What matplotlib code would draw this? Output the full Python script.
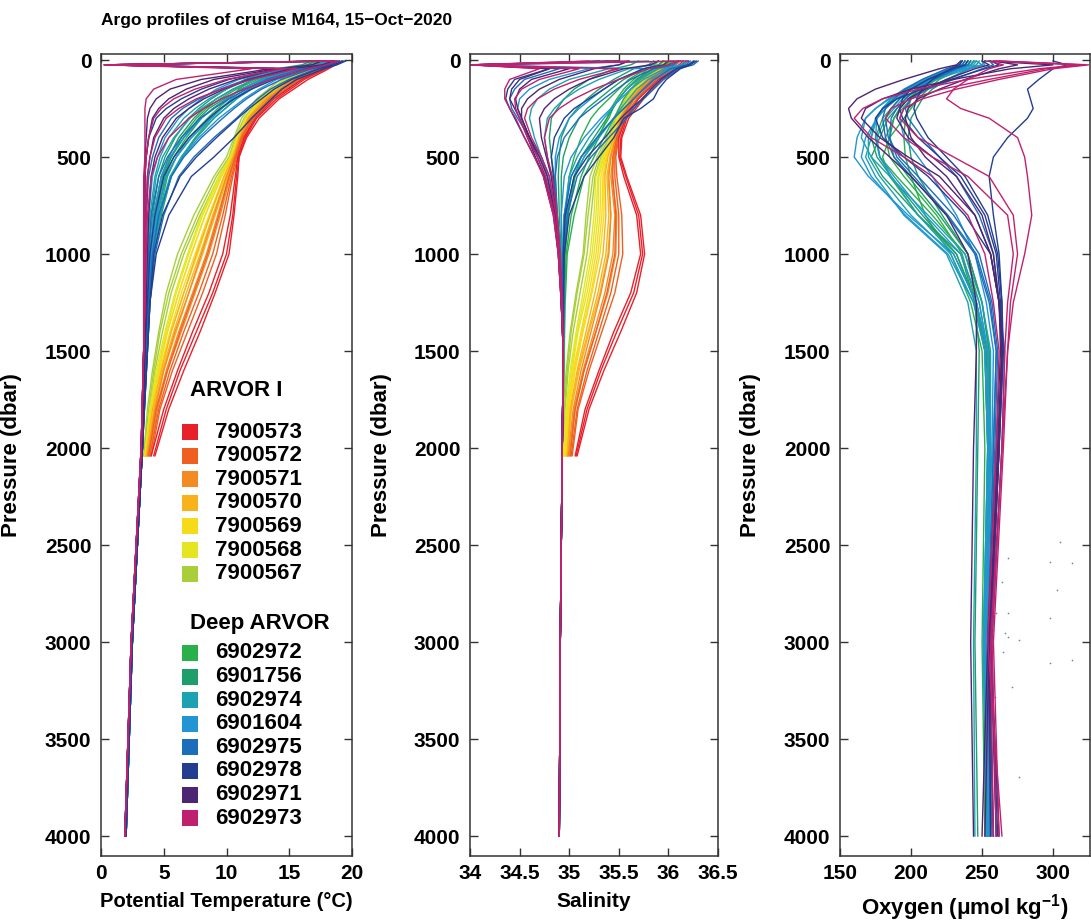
import matplotlib
matplotlib.use("Agg")
import matplotlib.pyplot as plt
from matplotlib.patches import Rectangle

plt.rcParams['font.family'] = ['Liberation Sans', 'DejaVu Sans']
plt.rcParams['font.weight'] = 'bold'
plt.rcParams['mathtext.fontset'] = 'custom'
plt.rcParams['mathtext.rm'] = 'Liberation Sans:bold'
plt.rcParams['mathtext.it'] = 'Liberation Sans:bold'
plt.rcParams['mathtext.bf'] = 'Liberation Sans:bold'

# ---------------- data ----------------
ARVOR_IDS = ['7900573', '7900572', '7900571', '7900570', '7900569', '7900568', '7900567']
ARVOR_COLORS = ['#E8202A', '#EF5F22', '#F38B22', '#F8B31C', '#F7DA1A', '#E5E621', '#A8CF3A']
DEEP_IDS = ['6902972', '6901756', '6902974', '6901604', '6902975', '6902978', '6902971', '6902973']
DEEP_COLORS = ['#2AB04A', '#1E9E6A', '#1CA2B2', '#2295D5', '#1C6EBA', '#233E91', '#4E2572', '#C0216F']

# pressure levels (dbar)
ARVOR_P = [5, 50, 100, 200, 300, 400, 500, 600, 800, 1000, 1200, 1400, 1600, 1800, 2040]
DEEP_P = [5, 25, 45, 100, 150, 200, 250, 300, 400, 500, 600, 800, 1000, 1250, 1500, 2000, 3000, 4000]

# ARVOR I potential temperature (deg C)
T_7900573 = [[19.2, 18.0, 16.5, 14.2, 12.6, 11.6, 11.0, 10.9, 10.6, 10.2, 9.1, 7.9, 6.6, 5.4, 4.3],
             [18.8, 17.6, 16.0, 13.8, 12.3, 11.4, 10.9, 10.7, 10.3, 9.7, 8.6, 7.3, 6.1, 5.0, 4.0],
             [19.0, 17.8, 16.2, 14.0, 12.4, 11.5, 11.0, 10.8, 10.5, 10.0, 8.9, 7.6, 6.3, 5.2, 4.2]]
T_7900572 = [[18.6, 17.4, 15.8, 13.6, 12.1, 11.3, 10.8, 10.4, 9.7, 8.9, 7.8, 6.6, 5.5, 4.6, 3.9],
             [18.3, 17.0, 15.5, 13.4, 12.0, 11.2, 10.7, 10.2, 9.4, 8.5, 7.4, 6.3, 5.3, 4.4, 3.8],
             [18.8, 17.5, 16.0, 13.7, 12.2, 11.4, 10.9, 10.5, 9.9, 9.2, 8.1, 6.9, 5.7, 4.7, 4.0]]
T_7900571 = [[18.4, 17.2, 15.6, 13.5, 12.0, 11.2, 10.7, 10.2, 9.3, 8.4, 7.3, 6.2, 5.2, 4.4, 3.8],
             [18.0, 16.9, 15.3, 13.2, 11.8, 11.1, 10.6, 10.0, 9.0, 8.0, 7.0, 5.9, 5.0, 4.3, 3.7],
             [18.5, 17.3, 15.7, 13.6, 12.1, 11.2, 10.7, 10.3, 9.5, 8.6, 7.5, 6.4, 5.3, 4.5, 3.9]]
T_7900570 = [[18.2, 17.0, 15.4, 13.3, 11.9, 11.1, 10.6, 10.0, 8.9, 7.9, 6.8, 5.8, 4.9, 4.2, 3.7],
             [17.8, 16.6, 15.1, 13.0, 11.7, 11.0, 10.5, 9.8, 8.7, 7.6, 6.6, 5.6, 4.8, 4.1, 3.6],
             [18.1, 16.9, 15.3, 13.2, 11.8, 11.0, 10.6, 10.1, 9.1, 8.1, 7.0, 6.0, 5.0, 4.3, 3.7]]
T_7900569 = [[18.0, 16.8, 15.2, 13.1, 11.8, 11.0, 10.5, 9.8, 8.6, 7.5, 6.4, 5.5, 4.7, 4.0, 3.6],
             [17.6, 16.5, 14.9, 12.9, 11.6, 10.9, 10.4, 9.6, 8.3, 7.2, 6.2, 5.3, 4.6, 4.0, 3.5],
             [18.1, 16.9, 15.3, 13.2, 11.8, 11.0, 10.6, 9.9, 8.7, 7.7, 6.6, 5.6, 4.8, 4.1, 3.6]]
T_7900568 = [[17.8, 16.6, 15.0, 12.9, 11.6, 10.9, 10.4, 9.5, 8.1, 7.0, 6.0, 5.2, 4.5, 3.9, 3.5],
             [17.5, 16.3, 14.7, 12.7, 11.5, 10.8, 10.3, 9.4, 8.0, 6.9, 5.9, 5.1, 4.4, 3.9, 3.5],
             [17.9, 16.7, 15.1, 13.0, 11.7, 10.9, 10.4, 9.6, 8.3, 7.2, 6.2, 5.3, 4.6, 4.0, 3.6]]
T_7900567 = [[17.4, 16.2, 14.6, 12.6, 11.4, 10.7, 10.2, 9.2, 7.7, 6.4, 5.4, 4.7, 4.2, 3.8, 3.4],
             [17.0, 15.8, 14.3, 12.4, 11.2, 10.6, 10.0, 9.0, 7.4, 6.1, 5.2, 4.6, 4.1, 3.7, 3.4],
             [17.6, 16.4, 14.8, 12.8, 11.5, 10.8, 10.3, 9.4, 7.9, 6.6, 5.6, 4.9, 4.3, 3.9, 3.5]]

# ARVOR I salinity
S_7900573 = [[36.20, 36.10, 35.95, 35.75, 35.60, 35.53, 35.52, 35.58, 35.72, 35.76, 35.68, 35.52, 35.35, 35.20, 35.08],
             [36.15, 36.05, 35.90, 35.70, 35.57, 35.50, 35.50, 35.55, 35.68, 35.72, 35.62, 35.45, 35.30, 35.16, 35.06],
             [36.18, 36.08, 35.93, 35.73, 35.58, 35.52, 35.51, 35.57, 35.70, 35.74, 35.65, 35.48, 35.32, 35.18, 35.07]]
S_7900572 = [[36.10, 36.00, 35.86, 35.68, 35.55, 35.49, 35.46, 35.46, 35.50, 35.50, 35.42, 35.30, 35.18, 35.08, 35.02],
             [36.05, 35.96, 35.83, 35.65, 35.53, 35.48, 35.44, 35.44, 35.47, 35.46, 35.38, 35.27, 35.15, 35.06, 35.01],
             [36.12, 36.02, 35.88, 35.69, 35.56, 35.50, 35.47, 35.48, 35.53, 35.54, 35.46, 35.33, 35.20, 35.09, 35.03]]
S_7900571 = [[36.08, 35.98, 35.84, 35.66, 35.54, 35.48, 35.44, 35.42, 35.46, 35.44, 35.36, 35.25, 35.14, 35.05, 35.00],
             [36.02, 35.94, 35.80, 35.63, 35.52, 35.47, 35.42, 35.40, 35.42, 35.40, 35.32, 35.22, 35.12, 35.04, 34.99],
             [36.06, 35.97, 35.83, 35.65, 35.53, 35.48, 35.45, 35.43, 35.48, 35.47, 35.39, 35.27, 35.15, 35.06, 35.00]]
S_7900570 = [[36.04, 35.95, 35.81, 35.64, 35.52, 35.46, 35.41, 35.38, 35.40, 35.37, 35.29, 35.19, 35.09, 35.02, 34.98],
             [36.00, 35.92, 35.78, 35.62, 35.51, 35.45, 35.39, 35.36, 35.37, 35.34, 35.26, 35.17, 35.08, 35.01, 34.98],
             [36.03, 35.94, 35.80, 35.63, 35.52, 35.46, 35.42, 35.39, 35.42, 35.39, 35.31, 35.20, 35.10, 35.02, 34.98]]
S_7900569 = [[36.02, 35.93, 35.79, 35.62, 35.51, 35.44, 35.38, 35.35, 35.35, 35.31, 35.23, 35.14, 35.06, 35.00, 34.97],
             [35.98, 35.90, 35.76, 35.60, 35.50, 35.43, 35.36, 35.32, 35.31, 35.27, 35.20, 35.12, 35.04, 34.99, 34.96],
             [36.00, 35.91, 35.77, 35.61, 35.50, 35.44, 35.37, 35.34, 35.33, 35.29, 35.22, 35.13, 35.05, 34.99, 34.96]]
S_7900568 = [[35.98, 35.89, 35.75, 35.59, 35.49, 35.42, 35.34, 35.29, 35.27, 35.23, 35.16, 35.08, 35.02, 34.97, 34.95],
             [35.95, 35.87, 35.73, 35.58, 35.48, 35.41, 35.33, 35.27, 35.25, 35.21, 35.14, 35.07, 35.01, 34.97, 34.94],
             [35.97, 35.88, 35.74, 35.59, 35.49, 35.42, 35.35, 35.30, 35.29, 35.25, 35.18, 35.09, 35.03, 34.98, 34.95]]
S_7900567 = [[35.94, 35.86, 35.72, 35.57, 35.47, 35.40, 35.30, 35.24, 35.19, 35.15, 35.08, 35.02, 34.98, 34.95, 34.93],
             [35.90, 35.83, 35.70, 35.55, 35.46, 35.38, 35.28, 35.21, 35.17, 35.14, 35.07, 35.01, 34.97, 34.94, 34.93],
             [35.96, 35.88, 35.74, 35.58, 35.48, 35.41, 35.32, 35.26, 35.22, 35.18, 35.11, 35.04, 34.99, 34.96, 34.94]]

# Deep ARVOR potential temperature (deg C)
T_6902972 = [[17.5, 16.8, 15.0, 12.5, 10.8, 9.5, 8.4, 7.6, 6.4, 5.6, 5.0, 4.4, 4.0, 3.8, 3.6, 3.3, 2.5, 2.0],
             [17.0, 16.5, 14.5, 12.0, 11.0, 10.2, 9.3, 8.5, 7.0, 6.0, 5.3, 4.6, 4.1, 3.8, 3.6, 3.3, 2.5, 2.0],
             [18.0, 17.2, 15.8, 13.2, 11.8, 10.6, 9.6, 8.8, 7.5, 6.4, 5.6, 4.8, 4.2, 3.9, 3.7, 3.3, 2.5, 2.0],
             [17.8, 17.0, 15.2, 12.8, 11.2, 10.0, 8.9, 8.0, 6.8, 5.8, 5.1, 4.5, 4.0, 3.8, 3.6, 3.3, 2.5, 2.0]]
T_6901756 = [[17.2, 16.4, 14.8, 12.2, 10.5, 9.2, 8.2, 7.4, 6.2, 5.4, 4.8, 4.2, 3.9, 3.7, 3.5, 3.3, 2.5, 1.9],
             [16.8, 16.0, 14.0, 11.5, 10.0, 8.8, 7.8, 7.0, 5.9, 5.1, 4.6, 4.1, 3.8, 3.7, 3.5, 3.3, 2.5, 1.9],
             [18.3, 17.6, 16.0, 13.4, 11.9, 10.8, 9.9, 9.0, 7.6, 6.5, 5.6, 4.7, 4.1, 3.8, 3.6, 3.3, 2.5, 2.0],
             [17.5, 16.8, 15.2, 12.8, 11.2, 9.8, 8.6, 7.8, 6.6, 5.6, 4.9, 4.3, 3.9, 3.7, 3.5, 3.3, 2.5, 1.9]]
T_6902974 = [[18.2, 17.5, 15.5, 13.0, 11.5, 10.4, 9.6, 8.8, 7.2, 6.0, 5.2, 4.5, 4.0, 3.8, 3.6, 3.3, 2.5, 2.0],
             [17.8, 0.4, 14.8, 11.8, 10.0, 8.6, 7.5, 6.6, 5.4, 4.7, 4.3, 3.9, 3.7, 3.6, 3.5, 3.3, 2.4, 1.9],
             [18.5, 17.8, 16.2, 13.5, 12.0, 10.8, 9.9, 9.0, 7.6, 6.4, 5.5, 4.6, 4.1, 3.8, 3.6, 3.3, 2.5, 2.0],
             [18.0, 17.2, 15.0, 12.2, 10.6, 9.2, 8.0, 7.1, 5.8, 4.9, 4.4, 4.0, 3.8, 3.7, 3.5, 3.3, 2.5, 1.9]]
T_6901604 = [[18.8, 0.5, 15.8, 12.8, 11.2, 10.0, 9.0, 8.0, 6.6, 5.5, 4.8, 4.2, 3.9, 3.7, 3.5, 3.3, 2.5, 1.9],
             [18.0, 17.2, 14.6, 11.0, 9.2, 8.0, 7.0, 6.2, 5.1, 4.5, 4.1, 3.8, 3.6, 3.6, 3.5, 3.2, 2.4, 1.9],
             [19.0, 18.2, 16.8, 14.0, 12.6, 11.4, 10.4, 9.4, 7.8, 6.5, 5.6, 4.7, 4.1, 3.8, 3.6, 3.3, 2.5, 2.0],
             [18.6, 17.9, 16.2, 13.4, 11.8, 10.6, 9.6, 8.7, 7.2, 6.0, 5.2, 4.4, 4.0, 3.8, 3.6, 3.3, 2.5, 2.0]]
T_6902975 = [[19.2, 18.5, 17.2, 15.0, 13.5, 12.5, 11.6, 10.8, 9.0, 7.4, 6.2, 5.0, 4.3, 3.9, 3.7, 3.3, 2.5, 2.0],
             [18.4, 0.3, 15.0, 11.6, 9.5, 7.8, 6.5, 5.6, 4.6, 4.1, 3.8, 3.6, 3.5, 3.5, 3.4, 3.2, 2.4, 1.9],
             [18.8, 18.0, 16.0, 13.2, 11.6, 10.2, 9.0, 7.9, 6.4, 5.3, 4.6, 4.0, 3.8, 3.7, 3.5, 3.3, 2.5, 1.9],
             [19.0, 18.3, 16.8, 14.4, 12.8, 11.6, 10.6, 9.7, 8.0, 6.6, 5.6, 4.6, 4.1, 3.8, 3.6, 3.3, 2.5, 2.0]]
T_6902978 = [[19.5, 18.8, 17.8, 15.6, 14.4, 13.6, 12.8, 12.0, 10.6, 9.0, 7.2, 5.4, 4.4, 3.9, 3.7, 3.3, 2.5, 2.0],
             [18.6, 0.4, 14.2, 10.2, 8.0, 6.4, 5.2, 4.4, 3.8, 3.6, 3.5, 3.4, 3.4, 3.4, 3.4, 3.2, 2.4, 1.9],
             [19.0, 18.2, 16.4, 13.8, 12.0, 10.6, 9.5, 8.6, 7.0, 5.8, 5.0, 4.3, 3.9, 3.7, 3.5, 3.3, 2.5, 1.9],
             [19.3, 18.6, 17.4, 15.2, 13.8, 12.8, 11.8, 10.9, 9.2, 7.6, 6.3, 4.9, 4.2, 3.9, 3.7, 3.3, 2.5, 2.0]]
T_6902971 = [[18.0, 0.3, 13.5, 8.0, 5.5, 4.4, 3.9, 3.7, 3.6, 3.5, 3.5, 3.5, 3.5, 3.5, 3.4, 3.2, 2.4, 1.9],
             [18.5, 17.6, 15.2, 11.8, 9.8, 8.2, 7.0, 6.0, 4.9, 4.3, 4.0, 3.8, 3.7, 3.6, 3.5, 3.3, 2.4, 1.9],
             [17.6, 16.8, 14.2, 10.8, 8.6, 7.0, 5.8, 5.0, 4.2, 3.9, 3.7, 3.6, 3.5, 3.5, 3.4, 3.2, 2.4, 1.9],
             [18.2, 0.4, 14.0, 9.0, 6.8, 5.4, 4.6, 4.1, 3.8, 3.6, 3.5, 3.5, 3.5, 3.5, 3.4, 3.2, 2.4, 1.9]]
T_6902973 = [[18.7, 0.2, 12.0, 6.0, 4.2, 3.6, 3.5, 3.5, 3.5, 3.5, 3.4, 3.4, 3.4, 3.4, 3.4, 3.2, 2.4, 1.9],
             [18.2, 0.5, 15.6, 12.0, 9.6, 7.6, 6.2, 5.2, 4.3, 3.9, 3.7, 3.6, 3.5, 3.5, 3.4, 3.2, 2.4, 1.9],
             [19.0, 18.0, 16.5, 13.6, 11.4, 9.6, 8.2, 7.0, 5.4, 4.5, 4.0, 3.7, 3.6, 3.5, 3.4, 3.2, 2.4, 1.9],
             [18.4, 0.3, 14.5, 10.0, 7.5, 5.8, 4.8, 4.2, 3.8, 3.6, 3.5, 3.5, 3.5, 3.5, 3.4, 3.2, 2.4, 1.9]]

# Deep ARVOR salinity
S_6902972 = [[36.00, 35.95, 35.80, 35.65, 35.55, 35.48, 35.42, 35.38, 35.30, 35.20, 35.12, 35.02, 34.97, 34.95, 34.95, 34.93, 34.91, 34.90],
             [36.10, 36.05, 35.90, 35.72, 35.62, 35.55, 35.50, 35.45, 35.35, 35.25, 35.15, 35.05, 34.98, 34.96, 34.95, 34.93, 34.91, 34.90],
             [35.95, 35.90, 35.78, 35.60, 35.50, 35.40, 35.30, 35.22, 35.12, 35.05, 35.00, 34.96, 34.95, 34.95, 34.94, 34.93, 34.91, 34.90],
             [36.02, 35.97, 35.84, 35.68, 35.58, 35.50, 35.44, 35.40, 35.28, 35.15, 35.06, 34.99, 34.96, 34.95, 34.95, 34.93, 34.91, 34.90]]
S_6901756 = [[35.85, 35.80, 35.65, 35.45, 35.30, 35.18, 35.08, 35.00, 34.92, 34.90, 34.89, 34.90, 34.92, 34.94, 34.94, 34.93, 34.91, 34.90],
             [35.70, 35.62, 35.45, 35.20, 35.05, 34.95, 34.88, 34.82, 34.80, 34.82, 34.85, 34.88, 34.91, 34.93, 34.94, 34.93, 34.91, 34.90],
             [36.05, 36.00, 35.85, 35.68, 35.58, 35.50, 35.44, 35.38, 35.25, 35.12, 35.05, 34.98, 34.95, 34.95, 34.94, 34.93, 34.91, 34.90],
             [35.95, 35.90, 35.75, 35.55, 35.42, 35.30, 35.18, 35.10, 35.00, 34.94, 34.92, 34.92, 34.93, 34.94, 34.94, 34.93, 34.91, 34.90]]
S_6902974 = [[36.10, 36.05, 35.88, 35.70, 35.58, 35.50, 35.43, 35.35, 35.20, 35.08, 35.00, 34.95, 34.94, 34.94, 34.94, 34.93, 34.91, 34.90],
             [35.80, 34.02, 35.40, 35.00, 34.80, 34.68, 34.62, 34.60, 34.65, 34.72, 34.78, 34.85, 34.90, 34.93, 34.94, 34.93, 34.91, 34.90],
             [36.20, 36.15, 36.00, 35.80, 35.68, 35.60, 35.52, 35.45, 35.30, 35.15, 35.05, 34.97, 34.95, 34.95, 34.94, 34.93, 34.91, 34.90],
             [35.90, 35.85, 35.60, 35.30, 35.10, 34.95, 34.85, 34.78, 34.75, 34.78, 34.82, 34.87, 34.91, 34.93, 34.94, 34.93, 34.91, 34.90]]
S_6901604 = [[36.15, 34.03, 35.75, 35.50, 35.35, 35.22, 35.10, 35.00, 34.90, 34.86, 34.86, 34.88, 34.91, 34.93, 34.94, 34.93, 34.91, 34.90],
             [35.60, 35.50, 35.20, 34.80, 34.60, 34.50, 34.48, 34.52, 34.60, 34.70, 34.78, 34.85, 34.90, 34.93, 34.94, 34.93, 34.91, 34.90],
             [36.25, 36.20, 36.05, 35.85, 35.75, 35.65, 35.55, 35.45, 35.28, 35.12, 35.02, 34.95, 34.94, 34.94, 34.94, 34.93, 34.91, 34.90],
             [36.18, 36.12, 35.96, 35.75, 35.62, 35.52, 35.42, 35.32, 35.15, 35.02, 34.95, 34.92, 34.93, 34.94, 34.94, 34.93, 34.91, 34.90]]
S_6902975 = [[36.30, 36.25, 36.10, 35.95, 35.85, 35.75, 35.65, 35.58, 35.40, 35.22, 35.08, 34.98, 34.95, 34.95, 34.94, 34.93, 34.91, 34.90],
             [35.40, 34.02, 34.90, 34.55, 34.45, 34.40, 34.42, 34.48, 34.60, 34.72, 34.80, 34.86, 34.90, 34.92, 34.94, 34.93, 34.91, 34.90],
             [36.10, 36.05, 35.85, 35.62, 35.48, 35.35, 35.22, 35.10, 34.95, 34.88, 34.86, 34.88, 34.91, 34.93, 34.94, 34.93, 34.91, 34.90],
             [36.22, 36.18, 36.02, 35.86, 35.75, 35.65, 35.55, 35.45, 35.28, 35.12, 35.02, 34.95, 34.94, 34.94, 34.94, 34.93, 34.91, 34.90]]
S_6902978 = [[36.28, 36.22, 36.12, 35.98, 35.90, 35.85, 35.72, 35.55, 35.45, 35.30, 35.15, 35.00, 34.95, 34.94, 34.94, 34.93, 34.91, 34.90],
             [35.50, 34.02, 34.80, 34.45, 34.38, 34.36, 34.40, 34.45, 34.55, 34.65, 34.75, 34.85, 34.90, 34.92, 34.94, 34.93, 34.91, 34.90],
             [36.00, 35.95, 35.75, 35.50, 35.35, 35.20, 35.05, 34.95, 34.85, 34.82, 34.84, 34.87, 34.90, 34.93, 34.94, 34.93, 34.91, 34.90],
             [36.26, 36.20, 36.08, 35.92, 35.82, 35.74, 35.62, 35.52, 35.36, 35.18, 35.05, 34.96, 34.94, 34.94, 34.94, 34.93, 34.91, 34.90]]
S_6902971 = [[35.30, 34.01, 34.80, 34.50, 34.42, 34.40, 34.45, 34.50, 34.58, 34.66, 34.74, 34.84, 34.89, 34.92, 34.94, 34.93, 34.91, 34.90],
             [35.90, 35.82, 35.55, 35.20, 35.00, 34.85, 34.75, 34.70, 34.72, 34.77, 34.82, 34.87, 34.90, 34.93, 34.94, 34.93, 34.91, 34.90],
             [35.60, 35.50, 35.25, 34.90, 34.70, 34.58, 34.52, 34.52, 34.60, 34.70, 34.78, 34.86, 34.90, 34.92, 34.94, 34.93, 34.91, 34.90],
             [35.50, 34.02, 35.00, 34.62, 34.50, 34.46, 34.48, 34.52, 34.60, 34.68, 34.76, 34.85, 34.89, 34.92, 34.94, 34.93, 34.91, 34.90]]
S_6902973 = [[35.20, 34.00, 34.70, 34.40, 34.35, 34.35, 34.40, 34.46, 34.55, 34.65, 34.74, 34.84, 34.89, 34.92, 34.94, 34.93, 34.91, 34.90],
             [36.20, 34.02, 35.50, 35.10, 34.85, 34.68, 34.58, 34.55, 34.62, 34.72, 34.80, 34.87, 34.90, 34.93, 34.94, 34.93, 34.91, 34.90],
             [36.10, 36.00, 35.80, 35.50, 35.25, 35.05, 34.90, 34.80, 34.75, 34.78, 34.83, 34.88, 34.91, 34.93, 34.94, 34.93, 34.91, 34.90],
             [35.60, 34.01, 35.10, 34.70, 34.52, 34.45, 34.46, 34.50, 34.58, 34.68, 34.76, 34.85, 34.89, 34.92, 34.94, 34.93, 34.91, 34.90]]

# Deep ARVOR oxygen (umol/kg)
O_6902972 = [[240, 238, 230, 215, 205, 200, 198, 196, 195, 196, 200, 210, 228, 242, 250, 252, 250, 252],
             [245, 242, 235, 220, 212, 205, 200, 195, 185, 180, 185, 205, 232, 245, 252, 254, 252, 253],
             [236, 234, 226, 212, 200, 192, 186, 180, 175, 178, 190, 215, 238, 248, 254, 255, 252, 254],
             [242, 240, 232, 218, 208, 200, 194, 188, 182, 185, 195, 218, 236, 246, 252, 254, 251, 253]]
O_6901756 = [[242, 240, 232, 216, 206, 198, 192, 188, 185, 188, 198, 220, 240, 250, 255, 256, 253, 255],
             [238, 236, 228, 214, 204, 196, 190, 184, 178, 172, 180, 205, 235, 245, 248, 247, 245, 247],
             [248, 246, 240, 226, 215, 208, 204, 200, 198, 200, 205, 222, 240, 250, 255, 256, 253, 256],
             [240, 238, 230, 212, 198, 188, 180, 175, 172, 176, 186, 208, 232, 246, 253, 255, 252, 254]]
O_6902974 = [[244, 242, 232, 214, 200, 190, 182, 176, 170, 170, 178, 200, 228, 244, 252, 254, 251, 253],
             [250, 252, 240, 218, 200, 185, 175, 168, 165, 172, 185, 212, 238, 250, 256, 256, 252, 254],
             [240, 238, 228, 210, 196, 186, 180, 176, 172, 168, 175, 195, 225, 240, 246, 246, 244, 245],
             [246, 244, 236, 218, 204, 194, 188, 182, 176, 178, 186, 205, 230, 246, 254, 255, 252, 255]]
O_6901604 = [[246, 250, 238, 212, 196, 184, 175, 168, 162, 160, 170, 198, 230, 246, 254, 255, 252, 254],
             [252, 250, 242, 225, 210, 200, 195, 192, 195, 205, 215, 232, 245, 253, 258, 257, 253, 255],
             [238, 236, 226, 208, 195, 186, 180, 176, 175, 178, 188, 210, 235, 248, 254, 255, 252, 254],
             [244, 242, 234, 215, 200, 190, 182, 176, 168, 165, 172, 196, 226, 244, 252, 254, 251, 253]]
O_6902975 = [[236, 234, 225, 208, 196, 188, 182, 180, 182, 188, 200, 225, 245, 255, 260, 258, 254, 258],
             [255, 258, 250, 230, 212, 200, 196, 198, 208, 220, 232, 248, 258, 262, 266, 264, 257, 260],
             [242, 240, 232, 216, 204, 196, 190, 186, 185, 190, 202, 226, 246, 256, 260, 258, 254, 256],
             [238, 236, 228, 212, 200, 192, 186, 182, 184, 192, 205, 230, 248, 257, 261, 259, 254, 257]]
O_6902978 = [[300, 310, 300, 290, 282, 284, 286, 282, 268, 258, 255, 258, 262, 264, 264, 262, 256, 260],
             [256, 262, 252, 228, 208, 190, 180, 175, 180, 195, 212, 238, 256, 262, 265, 262, 256, 262],
             [240, 238, 230, 212, 200, 194, 192, 194, 205, 220, 235, 252, 260, 263, 264, 261, 255, 258],
             [236, 234, 228, 215, 208, 204, 202, 204, 212, 225, 238, 254, 261, 264, 265, 262, 256, 261]]
O_6902971 = [[258, 275, 262, 238, 220, 205, 198, 196, 200, 210, 225, 245, 256, 262, 264, 262, 255, 256],
             [235, 232, 220, 195, 175, 162, 156, 158, 170, 185, 200, 225, 240, 246, 246, 244, 242, 244],
             [250, 255, 245, 225, 210, 198, 192, 190, 198, 215, 232, 250, 258, 262, 263, 260, 254, 250],
             [252, 300, 270, 230, 200, 180, 168, 165, 178, 198, 220, 245, 256, 262, 264, 261, 255, 252]]
O_6902973 = [[262, 325, 300, 262, 232, 208, 195, 192, 205, 230, 255, 272, 275, 270, 268, 265, 258, 262],
             [258, 318, 290, 240, 205, 180, 166, 160, 172, 195, 215, 240, 252, 258, 262, 260, 254, 264],
             [255, 265, 255, 240, 230, 225, 235, 255, 275, 280, 282, 285, 280, 272, 268, 264, 256, 258],
             [260, 322, 295, 255, 222, 200, 186, 182, 195, 215, 240, 268, 272, 268, 266, 264, 257, 260]]

# isolated oxygen samples in the deep water
O_SPIKE_VAL = [305, 268, 298, 313, 264, 303, 260, 268, 298, 258, 266, 268, 276, 265, 298, 313, 271, 259, 276]
O_SPIKE_P = [2485, 2567, 2588, 2593, 2690, 2732, 2851, 2851, 2876, 2938, 2954, 2974, 2990, 3052, 3108, 3093, 3232, 3283, 3696]

ARVOR_T = [T_7900573, T_7900572, T_7900571, T_7900570, T_7900569, T_7900568, T_7900567]
ARVOR_S = [S_7900573, S_7900572, S_7900571, S_7900570, S_7900569, S_7900568, S_7900567]
DEEP_T = [T_6902972, T_6901756, T_6902974, T_6901604, T_6902975, T_6902978, T_6902971, T_6902973]
DEEP_S = [S_6902972, S_6901756, S_6902974, S_6901604, S_6902975, S_6902978, S_6902971, S_6902973]
DEEP_O = [O_6902972, O_6901756, O_6902974, O_6901604, O_6902975, O_6902978, O_6902971, O_6902973]

# ---------------- figure ----------------
W, H = 1091, 924
fig = plt.figure(figsize=(W / 100, H / 100), dpi=100)


def add_axes(x0, x1, y0=54, y1=856):
    return fig.add_axes([x0 / W, 1 - y1 / H, (x1 - x0) / W, (y1 - y0) / H])


ax1 = add_axes(101, 352)
ax2 = add_axes(470, 718)
ax3 = add_axes(840, 1090)

LW = 1.0
# ARVOR I floats (only T and S), drawn first so that deep floats lie on top
for vals_t, vals_s, col in zip(ARVOR_T[::-1], ARVOR_S[::-1], ARVOR_COLORS[::-1]):
    for prof in vals_t:
        ax1.plot(prof, ARVOR_P, color=col, lw=LW)
    for prof in vals_s:
        ax2.plot(prof, ARVOR_P, color=col, lw=LW)

for vals_t, vals_s, vals_o, col in zip(DEEP_T, DEEP_S, DEEP_O, DEEP_COLORS):
    for prof in vals_t:
        ax1.plot(prof, DEEP_P, color=col, lw=LW)
    for prof in vals_s:
        ax2.plot(prof, DEEP_P, color=col, lw=LW)
    for prof in vals_o:
        ax3.plot(prof, DEEP_P, color=col, lw=LW)

ax3.scatter(O_SPIKE_VAL, O_SPIKE_P, s=1.5, color='#5B8AB8', linewidths=0)


def style(ax, xlim, xticks, xticklabels, xlabel, xlabel_size=14.5):
    ax.set_xlim(*xlim)
    ax.set_ylim(4103, -31)
    ax.set_xticks(xticks)
    ax.set_xticklabels(xticklabels)
    ax.set_yticks(range(0, 4001, 500))
    ax.tick_params(direction='in', top=True, right=True, length=6, width=1.0,
                   labelsize=15, color='#333333')
    ax.tick_params(axis='x', pad=6)
    ax.tick_params(axis='y', pad=7)
    for sp in ax.spines.values():
        sp.set_linewidth(1.1)
        sp.set_color('#333333')
    ax.set_xlabel(xlabel, fontsize=xlabel_size, fontweight='bold', labelpad=6)
    ax.set_ylabel('Pressure (dbar)', fontsize=16, fontweight='bold')
    ax.yaxis.set_label_coords(-0.315, 0.5)


style(ax1, (0, 20), [0, 5, 10, 15, 20], ['0', '5', '10', '15', '20'],
      'Potential Temperature (°C)')
style(ax2, (34, 36.5), [34, 34.5, 35, 35.5, 36, 36.5],
      ['34', '34.5', '35', '35.5', '36', '36.5'], 'Salinity', 15)
style(ax3, (150, 326), [150, 200, 250, 300], ['150', '200', '250', '300'],
      r'Oxygen ($\mathregular{\mu}$mol kg$^{-1}$)', 16)

fig.text(101 / W, 1 - 25 / H, 'Argo profiles of cruise M164, 15\u2212Oct\u22122020',
         fontsize=12.5, fontweight='bold', ha='left', va='baseline')


# legend drawn inside the temperature panel
def px(x, y):
    return (x - 101) / 251, (856 - y) / 802


def legend_block(title, title_y, ids, colors, y0):
    tx, ty = px(190, title_y)
    ax1.text(tx, ty, title, transform=ax1.transAxes, fontsize=16,
             fontweight='bold', ha='left', va='center')
    for i, (name, col) in enumerate(zip(ids, colors)):
        yc = y0 + i * 23.6
        rx, ry = px(182, yc + 8)
        ax1.add_patch(Rectangle((rx, ry), 16 / 251, 16 / 802, transform=ax1.transAxes,
                                facecolor=col, edgecolor='none'))
        lx, ly = px(215, yc)
        ax1.text(lx, ly, name, transform=ax1.transAxes, fontsize=16,
                 fontweight='bold', ha='left', va='center')


legend_block('ARVOR I', 390, ARVOR_IDS, ARVOR_COLORS, 432)
legend_block('Deep ARVOR', 623, DEEP_IDS, DEEP_COLORS, 653)

fig.savefig('out.png', dpi=100)
